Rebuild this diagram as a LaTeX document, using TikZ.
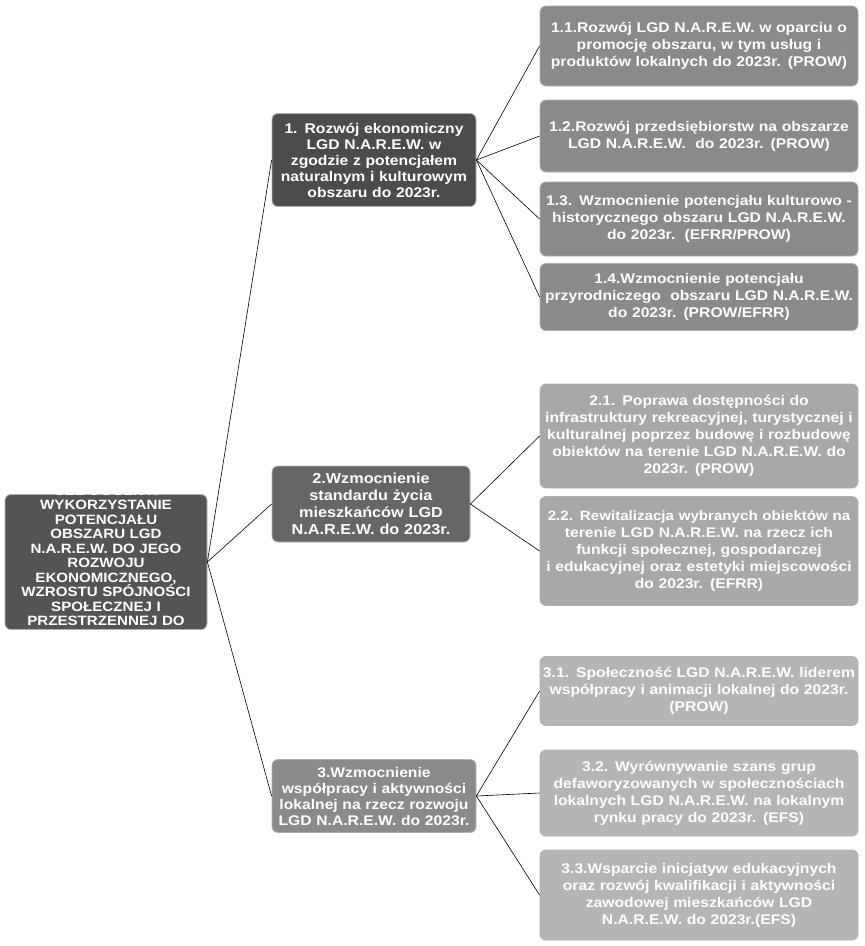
\documentclass[tikz,border=0pt]{standalone}
\usepackage{fontspec}
\setmainfont{Liberation Sans}[FakeStretch=1.12]
\begin{document}
\begin{tikzpicture}[x=1pt,y=-1pt,
  box/.style={draw=gray!60, line width=0.8pt, rounded corners=6pt, text=white, align=center, font=\bfseries\fontsize{14}{17}\selectfont, inner sep=1pt},
  leaf/.style={box, minimum width=318pt, text width=316pt},
  mid/.style={box, minimum width=204pt, text width=202pt},
  conn/.style={draw=black, line width=0.6pt}]
\useasboundingbox (0,0) rectangle (865,946);
\fill[white] (0,0) rectangle (865,946);
\node[box, fill=black!67, minimum width=202pt, text width=200pt, inner ysep=-11pt, font=\bfseries\fontsize{13.5}{14.5}\selectfont] (root) at (106,562)
 {CEL OGÓLNY:\\WYKORZYSTANIE\\POTENCJAŁU\\OBSZARU LGD\\N.A.R.E.W. DO JEGO\\ROZWOJU\\EKONOMICZNEGO,\\WZROSTU SPÓJNOŚCI\\SPOŁECZNEJ I\\PRZESTRZENNEJ DO\\2023r.};
\node[mid, fill=black!70, minimum height=93pt, font=\bfseries\fontsize{14}{16}\selectfont] (n1) at (374,160)
 {1. Rozwój ekonomiczny\\LGD N.A.R.E.W. w\\zgodzie z potencjałem\\naturalnym i kulturowym\\obszaru do 2023r.};
\node[mid, fill=black!60, minimum width=198pt, text width=196pt, minimum height=76pt, font=\bfseries\fontsize{14.5}{17}\selectfont] (n2) at (371,504)
 {2.Wzmocnienie\\standardu życia\\mieszkańców LGD\\N.A.R.E.W. do 2023r.};
\node[mid, fill=black!46, minimum height=73pt, font=\bfseries\fontsize{14}{16}\selectfont] (n3) at (374,796)
 {3.Wzmocnienie\\współpracy i aktywności\\lokalnej na rzecz rozwoju\\LGD N.A.R.E.W. do 2023r.};
\node[leaf, fill=black!46, minimum height=80pt] (a1) at (699,46)
 {1.1.Rozwój LGD N.A.R.E.W. w oparciu o\\promocję obszaru, w tym usług i\\produktów lokalnych do 2023r. (PROW)};
\node[leaf, fill=black!46, minimum height=72pt] (a2) at (699,136)
 {1.2.Rozwój przedsiębiorstw na obszarze\\LGD N.A.R.E.W.\ \ do 2023r. (PROW)};
\node[leaf, fill=black!46, minimum height=74pt] (a3) at (699,219)
 {1.3. Wzmocnienie potencjału kulturowo -\\historycznego obszaru LGD N.A.R.E.W.\\do 2023r.\ \ (EFRR/PROW)};
\node[leaf, fill=black!46, minimum height=67pt] (a4) at (699,297)
 {1.4.Wzmocnienie potencjału\\przyrodniczego\ \ obszaru LGD N.A.R.E.W.\\do 2023r. (PROW/EFRR)};
\node[leaf, fill=black!34, minimum height=104pt] (b1) at (699,436)
 {2.1. Poprawa dostępności do\\infrastruktury rekreacyjnej, turystycznej i\\kulturalnej poprzez budowę i rozbudowę\\obiektów na terenie LGD N.A.R.E.W. do\\2023r. (PROW)};
\node[leaf, fill=black!34, minimum height=109pt] (b2) at (699,551)
 {\mbox{\fontsize{13.5}{17}\selectfont 2.2. Rewitalizacja wybranych obiektów na}\\terenie LGD N.A.R.E.W. na rzecz ich\\funkcji społecznej, gospodarczej\\i edukacyjnej oraz estetyki miejscowości\\do 2023r. (EFRR)};
\node[leaf, fill=black!29, minimum height=69pt] (c1) at (699,691)
 {3.1. Społeczność LGD N.A.R.E.W. liderem\\współpracy i animacji lokalnej do 2023r.\\(PROW)};
\node[leaf, fill=black!29, minimum height=86pt] (c2) at (699,793)
 {3.2. Wyrównywanie szans grup\\defaworyzowanych w społecznościach\\lokalnych LGD N.A.R.E.W. na lokalnym\\rynku pracy do 2023r. (EFS)};
\node[leaf, fill=black!29, minimum height=90pt] (c3) at (699,895)
 {3.3.Wsparcie inicjatyw edukacyjnych\\oraz rozwój kwalifikacji i aktywności\\zawodowej mieszkańców LGD\\N.A.R.E.W. do 2023r.(EFS)};
\foreach \t in {n1,n2,n3} \draw[conn] (root.east) -- (\t.west);
\foreach \t in {a1,a2,a3,a4} \draw[conn] (n1.east) -- (\t.west);
\foreach \t in {b1,b2} \draw[conn] (n2.east) -- (\t.west);
\foreach \t in {c1,c2,c3} \draw[conn] (n3.east) -- (\t.west);
\end{tikzpicture}
\end{document}
